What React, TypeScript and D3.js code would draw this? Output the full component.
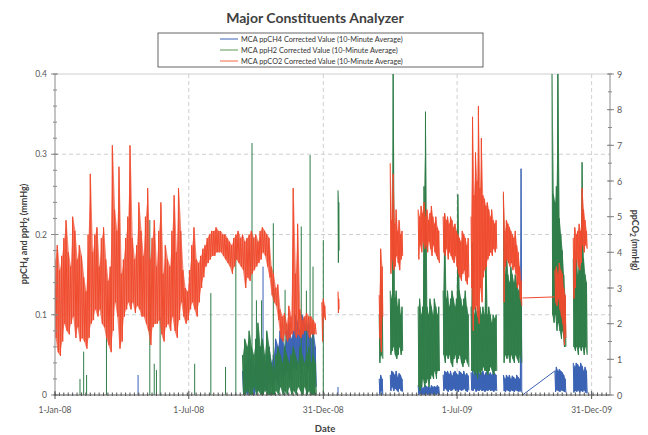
import React from "react";
import * as d3 from "d3";

const W = 648;
const H = 435;

// ---------- axes / categories ----------
const xDomainDates = ["2008-01-01", "2010-01-25"];
const xTickDates = ["2008-01-01", "2008-07-01", "2008-12-31", "2009-07-01", "2009-12-31"];
const xTickLabels = ["1-Jan-08", "1-Jul-08", "31-Dec-08", "1-Jul-09", "31-Dec-09"];
const leftTicks = [0, 0.1, 0.2, 0.3, 0.4];
const leftTickLabels = ["0", "0.1", "0.2", "0.3", "0.4"];
const rightTicks = [0, 1, 2, 3, 4, 5, 6, 7, 8, 9];
const legendLabels = [
  "MCA ppCH4 Corrected  Value (10-Minute Average)",
  "MCA ppH2 Corrected  Value (10-Minute Average)",
  "MCA ppCO2 Corrected  Value (10-Minute Average)",
];

// ---------- ppCO2 (right axis, mmHg): high / low per bin ----------
const co2Hi2008 = [3.8,4.2,3.5,3.9,4.4,4.9,4.0,3.6,5.0,4.6, 3.8,4.2,3.9,3.3,2.9,4.5,6.2,4.0,4.5,4.7, 3.6,4.4,4.7,3.8,3.2,3.6,7.0,5.2,4.6,6.4, 3.4,3.8,4.4,5.0,7.0,4.4,3.8,4.2,5.4,4.6, 3.9,5.0,5.8,3.8,4.4,4.9,3.6,4.6,5.4,3.4, 4.2,3.8,3.6,4.6,5.6,4.0,5.8,4.6,3.5,3.0, 2.9,3.5,4.2,4.7,3.8,3.7,3.9,4.1,4.2,4.4, 4.5,4.6,4.6,4.7,4.6,4.6,4.5,4.5,4.4,4.3, 4.2,4.4,4.5,4.6,4.4,4.5,4.3,4.4,4.5,4.6, 4.4,4.5,4.3,4.6,4.7,4.6,4.5,4.4,3.6,3.4, 3.0,3.1,2.4,2.2,2.3,2.0,2.5,2.2,5.8,3.4, 4.8,2.4,2.1,2.2,2.3,2.2,2.2,2.1,2.0];
const co2Lo2008 = [1.6,1.2,1.1,1.5,2.0,1.8,1.7,2.0,2.2,1.6, 1.9,1.5,1.6,1.5,1.3,1.6,2.0,2.1,2.4,2.2, 2.4,2.0,1.9,1.6,1.4,1.2,1.8,2.6,2.2,1.3, 1.5,2.2,2.4,2.6,2.4,2.6,2.3,2.5,2.4,2.2, 2.2,2.0,1.8,1.4,1.9,2.0,2.0,2.1,1.7,1.5, 1.9,2.0,1.8,2.2,1.8,1.6,2.1,2.6,2.2,2.0, 2.1,2.4,2.6,2.4,2.2,2.6,3.0,3.3,3.6,3.7, 3.8,3.9,3.9,4.0,4.0,4.0,3.9,3.8,3.7,3.6, 3.4,3.6,3.8,3.7,3.6,3.5,3.0,3.3,3.2,3.4, 3.5,3.6,3.7,3.8,4.0,3.9,3.6,3.3,2.8,2.6, 2.5,2.1,1.6,1.5,1.7,1.5,1.6,1.7,1.8,1.6, 1.7,1.6,1.7,1.8,1.8,1.6,1.7,1.7,1.7];
const co2HiDec08 = [2.6, 2.7, 2.5];
const co2LoDec08 = [1.5, 2.2, 2.1];
const co2HiJan09 = [2.9, 2.7];
const co2LoJan09 = [2.3, 2.4];
const co2HiMar09 = [2.8, 4.1, 3.6];
const co2LoMar09 = [1.6, 1.2, 2.2];
const co2HiApr09 = [6.5, 4.9, 6.2, 4.8, 5.2, 4.6, 4.9, 4.5, 4.6];
const co2LoApr09 = [3.4, 3.8, 3.5, 3.6, 3.9, 3.7, 3.5, 3.8, 3.9];
const co2HiMay09 = [5.2, 5.0, 5.3, 5.1, 5.4, 5.0, 5.2, 4.9, 5.1, 5.3, 5.0, 4.8, 5.0, 4.7, 4.6];
const co2LoMay09 = [3.8, 4.2, 4.0, 4.3, 4.1, 4.2, 4.0, 4.3, 4.1, 3.9, 4.2, 4.0, 3.9, 3.8, 3.7];
const co2HiJun09 = [5.0, 5.1, 4.9, 5.0, 4.8, 5.0, 4.9, 4.7, 4.8, 4.6, 4.5, 4.4, 4.3, 4.6, 4.5, 4.4, 4.2, 4.4];
const co2LoJun09 = [4.0, 3.9, 4.1, 3.8, 4.0, 3.9, 3.8, 3.7, 3.9, 3.6, 3.4, 3.3, 3.2, 3.4, 3.5, 3.2, 3.1, 3.3];
const co2HiJul09 = [5.0, 7.8, 5.6, 6.8, 6.0, 8.1, 5.8, 7.2, 5.6, 5.5, 5.3, 5.4, 5.2, 5.0, 5.2, 4.9, 4.8, 4.9];
const co2LoJul09 = [3.0, 1.8, 2.4, 2.5, 2.2, 2.0, 3.0, 2.6, 3.3, 3.5, 3.6, 3.8, 3.9, 4.0, 3.9, 4.1, 4.0, 4.1];
const co2HiSep09 = [5.7, 4.6, 4.9, 4.8, 4.7, 4.6, 4.5, 4.4, 4.6, 4.2, 4.0, 3.6, 3.2];
const co2LoSep09 = [2.6, 3.6, 3.8, 3.7, 3.6, 3.7, 3.5, 3.6, 3.4, 3.0, 3.1, 2.7, 2.5];
const co2BridgeDates = ["2009-09-28", "2009-11-11"];
const co2BridgeValues = [2.72, 2.75];
const co2HiNov09 = [3.5, 3.6, 3.4, 3.7, 3.5, 3.4, 3.0, 2.8];
const co2LoNov09 = [2.6, 2.5, 2.7, 2.4, 2.2, 2.0, 1.4, 1.6];
const co2HiDec09 = [4.4, 4.7, 4.5, 4.6, 4.8, 4.6, 5.8, 5.2, 4.9, 4.6];
const co2LoDec09 = [2.7, 3.0, 3.8, 3.6, 3.5, 3.7, 4.2, 4.0, 4.2, 4.1];

// ---------- ppH2 (left axis, mmHg) ----------
const h2SpikeDates = ["2008-02-04","2008-02-09","2008-02-13","2008-03-11","2008-05-09","2008-05-15","2008-05-18","2008-05-23","2008-07-09","2008-07-31","2008-08-20","2008-09-03","2008-09-25","2008-10-01","2008-10-08","2008-10-24","2008-11-09","2008-12-01","2008-12-08","2008-12-13","2008-12-17","2008-12-31"];
const h2SpikeValues = [0.02,0.054,0.025,0.1,0.218,0.039,0.031,0.097,0.039,0.127,0.035,0.197,0.314,0.118,0.118,0.214,0.131,0.21,0.13,0.299,0.16,0.193];
const h2Hi2008 = [0.05,0.07,0.06,0.08,0.06,0.05,0.07,0.09,0.06,0.07, 0.05,0.08,0.06,0.04,0.03,0.05,0.06,0.05,0.04,0.06, 0.05,0.04,0.05,0.06,0.05,0.04,0.06,0.05,0.04,0.05, 0.06,0.04,0.05,0.04];
const h2Lo2008 = [0,0,0.005,0,0,0.01,0,0.005,0,0, 0.005,0,0,0,0,0.005,0,0.01,0,0.005, 0,0.01,0,0.005,0,0.01,0.005,0,0.01,0, 0.005,0,0,0];
const h2HiJan09 = [0.255, 0.24];
const h2LoJan09 = [0.165, 0.18];
const h2HiMar09 = [0.1, 0.15, 0.13];
const h2LoMar09 = [0.04, 0.05, 0.045];
const h2HiApr09 = [0.13, 0.12, 0.42, 0.12, 0.13, 0.11, 0.12, 0.1, 0.11];
const h2LoApr09 = [0.05, 0.055, 0.06, 0.05, 0.045, 0.05, 0.06, 0.05, 0.055];
const h2HiMay09 = [0.11, 0.12, 0.1, 0.11, 0.26, 0.353, 0.11, 0.1, 0.12, 0.11, 0.1, 0.12, 0.11, 0.1, 0.11];
const h2LoMay09 = [0.01, 0.005, 0.01, 0.02, 0.01, 0.015, 0.02, 0.01, 0.02, 0.025, 0.02, 0.03, 0.02, 0.03, 0.03];
const h2HiJun09 = [0.13, 0.226, 0.12, 0.13, 0.11, 0.12, 0.13, 0.12, 0.11, 0.12, 0.25, 0.13, 0.12, 0.11, 0.12, 0.13, 0.11, 0.1];
const h2LoJun09 = [0.05, 0.04, 0.05, 0.045, 0.05, 0.04, 0.035, 0.045, 0.05, 0.04, 0.045, 0.05, 0.04, 0.035, 0.04, 0.045, 0.04, 0.035];
const h2HiJul09 = [0.11, 0.19, 0.1, 0.11, 0.1, 0.105, 0.11, 0.1, 0.11, 0.1, 0.197, 0.1, 0.11, 0.1, 0.09, 0.1, 0.095, 0.1];
const h2LoJul09 = [0.03, 0.03, 0.025, 0.03, 0.02, 0.03, 0.025, 0.03, 0.035, 0.03, 0.03, 0.025, 0.03, 0.035, 0.03, 0.025, 0.03, 0.03];
const h2HiSep09 = [0.25, 0.15, 0.19, 0.15, 0.14, 0.16, 0.15, 0.14, 0.15, 0.14, 0.13, 0.14, 0.12];
const h2LoSep09 = [0.04, 0.05, 0.045, 0.05, 0.04, 0.05, 0.045, 0.04, 0.05, 0.045, 0.04, 0.05, 0.04];
const h2HiNov09 = [0.42, 0.25, 0.24, 0.26, 0.42, 0.22, 0.2, 0.18, 0.15, 0.12];
const h2LoNov09 = [0.1, 0.09, 0.1, 0.08, 0.09, 0.08, 0.07, 0.08, 0.06, 0.06];
const h2HiDec09 = [0.17, 0.16, 0.18, 0.15, 0.17, 0.16, 0.29, 0.17, 0.15, 0.14];
const h2LoDec09 = [0.06, 0.055, 0.06, 0.05, 0.06, 0.055, 0.06, 0.05, 0.06, 0.05];

// ---------- ppCH4 (left axis, mmHg) ----------
const ch4SpikeDates = ["2008-04-23", "2008-10-10", "2009-01-20"];
const ch4SpikeValues = [0.025, 0.16, 0.01];
const ch4Hi2008 = [0.03,0.04,0.03,0.05,0.04,0.03,0.04,0.05,0.06,0.05, 0.04,0.05,0.06,0.04,0.05,0.07,0.06,0.08,0.07,0.06, 0.08,0.09,0.07,0.08,0.1,0.09,0.08,0.1,0.09,0.08, 0.09,0.07,0.08,0.06];
const ch4Lo2008 = [0,0.005,0,0.01,0.005,0,0.01,0.005,0.01,0, 0.01,0.005,0.02,0.01,0.015,0.02,0.01,0.03,0.02,0.025, 0.03,0.02,0.03,0.035,0.03,0.04,0.03,0.035,0.04,0.03, 0.035,0.03,0.02,0.01];
const ch4HiMar09 = [0.02, 0.025, 0.02];
const ch4LoMar09 = [0, 0.005, 0];
const ch4HiApr09 = [0.025, 0.03, 0.028, 0.025, 0.03, 0.022, 0.027, 0.025, 0.02];
const ch4LoApr09 = [0.005, 0.01, 0.005, 0.008, 0.006, 0.004, 0.008, 0.005, 0.004];
const ch4HiMay09 = [0.012, 0.01, 0.012, 0.008, 0.01, 0.012, 0.01, 0.011, 0.009, 0.012, 0.01, 0.011, 0.01, 0.012, 0.01];
const ch4LoMay09 = [0, 0.002, 0, 0.001, 0, 0.002, 0, 0.001, 0, 0.002, 0, 0.001, 0, 0.002, 0];
const ch4HiJun09 = [0.025, 0.03, 0.028, 0.03, 0.026, 0.03, 0.024, 0.028, 0.03, 0.027, 0.025, 0.03, 0.028, 0.026, 0.03, 0.025, 0.027, 0.024];
const ch4LoJun09 = [0.005, 0.008, 0.006, 0.004, 0.007, 0.005, 0.006, 0.008, 0.005, 0.006, 0.004, 0.007, 0.005, 0.006, 0.008, 0.005, 0.004, 0.006];
const ch4HiJul09 = [0.028, 0.03, 0.025, 0.03, 0.027, 0.03, 0.026, 0.028, 0.03, 0.025, 0.028, 0.03, 0.026, 0.028, 0.025, 0.03, 0.027, 0.025];
const ch4LoJul09 = [0.006, 0.005, 0.008, 0.004, 0.006, 0.005, 0.007, 0.005, 0.006, 0.004, 0.006, 0.005, 0.007, 0.005, 0.006, 0.004, 0.006, 0.005];
const ch4HiSep09 = [0.025, 0.02, 0.025, 0.022, 0.025, 0.02, 0.024, 0.022, 0.02, 0.025, 0.022, 0.02, 0.282];
const ch4LoSep09 = [0.005, 0.004, 0.006, 0.005, 0.004, 0.006, 0.005, 0.004, 0.006, 0.005, 0.004, 0.005, 0.003];
const ch4BridgeDates = ["2009-09-28", "2009-11-11"];
const ch4BridgeValues = [0.0, 0.03];
const ch4HiNov09 = [0.03, 0.035, 0.03, 0.032, 0.03, 0.028, 0.025, 0.02];
const ch4LoNov09 = [0.004, 0.006, 0.005, 0.004, 0.006, 0.005, 0.004, 0.003];
const ch4HiDec09 = [0.04, 0.035, 0.04, 0.038, 0.035, 0.04, 0.036, 0.03, 0.035, 0.03];
const ch4LoDec09 = [0.003, 0.005, 0.004, 0.006, 0.003, 0.005, 0.004, 0.006, 0.003, 0.002];

type Band = { start: string; step: number; hi: number[]; lo: number[] };

const co2Bands: Band[] = [
  { start: "2008-01-01", step: 3, hi: co2Hi2008, lo: co2Lo2008 },
  { start: "2008-12-29", step: 2, hi: co2HiDec08, lo: co2LoDec08 },
  { start: "2009-01-20", step: 1, hi: co2HiJan09, lo: co2LoJan09 },
  { start: "2009-03-17", step: 2, hi: co2HiMar09, lo: co2LoMar09 },
  { start: "2009-04-01", step: 2, hi: co2HiApr09, lo: co2LoApr09 },
  { start: "2009-05-09", step: 2, hi: co2HiMay09, lo: co2LoMay09 },
  { start: "2009-06-12", step: 2, hi: co2HiJun09, lo: co2LoJun09 },
  { start: "2009-07-20", step: 2, hi: co2HiJul09, lo: co2LoJul09 },
  { start: "2009-09-02", step: 2, hi: co2HiSep09, lo: co2LoSep09 },
  { start: "2009-11-11", step: 2, hi: co2HiNov09, lo: co2LoNov09 },
  { start: "2009-12-06", step: 2, hi: co2HiDec09, lo: co2LoDec09 },
];
const h2Bands: Band[] = [
  { start: "2008-09-12", step: 3, hi: h2Hi2008, lo: h2Lo2008 },
  { start: "2009-01-20", step: 1, hi: h2HiJan09, lo: h2LoJan09 },
  { start: "2009-03-17", step: 2, hi: h2HiMar09, lo: h2LoMar09 },
  { start: "2009-04-01", step: 2, hi: h2HiApr09, lo: h2LoApr09 },
  { start: "2009-05-09", step: 2, hi: h2HiMay09, lo: h2LoMay09 },
  { start: "2009-06-12", step: 2, hi: h2HiJun09, lo: h2LoJun09 },
  { start: "2009-07-20", step: 2, hi: h2HiJul09, lo: h2LoJul09 },
  { start: "2009-09-02", step: 2, hi: h2HiSep09, lo: h2LoSep09 },
  { start: "2009-11-07", step: 2, hi: h2HiNov09, lo: h2LoNov09 },
  { start: "2009-12-06", step: 2, hi: h2HiDec09, lo: h2LoDec09 },
];
const ch4Bands: Band[] = [
  { start: "2008-09-12", step: 3, hi: ch4Hi2008, lo: ch4Lo2008 },
  { start: "2009-03-17", step: 2, hi: ch4HiMar09, lo: ch4LoMar09 },
  { start: "2009-04-01", step: 2, hi: ch4HiApr09, lo: ch4LoApr09 },
  { start: "2009-05-09", step: 2, hi: ch4HiMay09, lo: ch4LoMay09 },
  { start: "2009-06-12", step: 2, hi: ch4HiJun09, lo: ch4LoJun09 },
  { start: "2009-07-20", step: 2, hi: ch4HiJul09, lo: ch4LoJul09 },
  { start: "2009-09-02", step: 2, hi: ch4HiSep09, lo: ch4LoSep09 },
  { start: "2009-11-11", step: 2, hi: ch4HiNov09, lo: ch4LoNov09 },
  { start: "2009-12-06", step: 2, hi: ch4HiDec09, lo: ch4LoDec09 },
];

const COL_CH4 = "#3a62b4";
const COL_H2 = "#2f7d48";
const COL_CO2 = "#f04b2e";
const FONT = "Lato, 'Open Sans', sans-serif";

const parse = d3.utcParse("%Y-%m-%d");
const DAY = 86400000;

export default function App() {
  const plot = { left: 55, right: 610, top: 74, bottom: 395 };
  const x = d3.scaleUtc().domain(xDomainDates.map((s) => parse(s)!)).range([plot.left, plot.right]);
  const yL = d3.scaleLinear().domain([0, 0.4]).range([plot.bottom, plot.top]);
  const yR = d3.scaleLinear().domain([0, 9]).range([plot.bottom, plot.top]);

  const bandPath = (b: Band, y: d3.ScaleLinear<number, number>) => {
    const t0 = parse(b.start)!.getTime();
    const pts: [number, number][] = [];
    b.hi.forEach((h, i) => {
      pts.push([t0 + i * b.step * DAY, h]);
      pts.push([t0 + (i + 0.5) * b.step * DAY, b.lo[i]]);
    });
    return d3.line<[number, number]>().x((p) => x(new Date(p[0]))).y((p) => y(p[1]))(pts) || "";
  };
  const bandArea = (b: Band, y: d3.ScaleLinear<number, number>) => {
    const t0 = parse(b.start)!.getTime();
    return (
      d3
        .area<number>()
        .x((_, i) => x(new Date(t0 + (i + 0.25) * b.step * DAY)))
        .y0((_, i) => y(b.lo[i]))
        .y1((h) => y(h))(b.hi) || ""
    );
  };
  const pairPath = (dates: string[], vals: number[], y: d3.ScaleLinear<number, number>) =>
    d3.line<number>().x((_, i) => x(parse(dates[i])!)).y((v) => y(v))(vals) || "";
  const spikePaths = (dates: string[], vals: number[]) =>
    vals.map((v, i) => {
      const xx = x(parse(dates[i])!);
      return `M${xx},${yL(0)}L${xx},${yL(v)}`;
    });

  const minorX = d3.utcDay.range(parse(xDomainDates[0])!, parse(xDomainDates[1])!, 6);
  const minorL = d3.range(0, 0.4001, 0.02);
  const minorR = d3.range(0, 9.001, 0.5);
  const gridGray = "#cfcfcf";
  const axisGray = "#8a8a8a";
  const labelGray = "#595959";

  const legend = { x: 158, y: 33, w: 325, h: 34 };
  const legendColors = [COL_CH4, "#5a9a55", "#ee6a45"];

  const series = [
    { key: "ch4", bands: ch4Bands, y: yL, color: COL_CH4 },
    { key: "h2", bands: h2Bands, y: yL, color: COL_H2 },
    { key: "co2", bands: co2Bands, y: yR, color: COL_CO2 },
  ];

  return (
    <svg width={W} height={H} style={{ position: "absolute", left: 0, top: 0, background: "#fff" }} fontFamily={FONT}>
      <defs>
        <clipPath id="plotClip">
          <rect x={plot.left} y={plot.top} width={plot.right - plot.left} height={plot.bottom - plot.top} />
        </clipPath>
      </defs>
      <rect width={W} height={H} fill="#fff" />
      {/* title */}
      <text x={315} y={23} textAnchor="middle" fontSize={14} fontWeight="bold" fill="#404040">
        Major Constituents  Analyzer
      </text>
      {/* gridlines */}
      {leftTicks.slice(1).map((t) => (
        <line key={"gh" + t} x1={plot.left} x2={plot.right} y1={yL(t)} y2={yL(t)} stroke={gridGray}
          strokeWidth={1} strokeDasharray={t === 0.4 ? undefined : "4,3"} />
      ))}
      {xTickDates.slice(1).map((d) => (
        <line key={"gv" + d} x1={x(parse(d)!)} x2={x(parse(d)!)} y1={plot.top} y2={plot.bottom} stroke={gridGray}
          strokeWidth={1} strokeDasharray="4,3" />
      ))}
      {/* series */}
      <g clipPath="url(#plotClip)" strokeWidth={1}>
        {series.map((s) => (
          <g key={s.key}>
            <g fill={s.color} fillOpacity={s.key === "co2" ? 0.7 : 0.9} stroke="none">
              {s.bands.map((b, i) => <path key={"a" + i} d={bandArea(b, s.y)} />)}
            </g>
            <g fill="none" stroke={s.color}>
              {s.bands.map((b, i) => <path key={"l" + i} d={bandPath(b, s.y)} />)}
              {s.key === "ch4" && spikePaths(ch4SpikeDates, ch4SpikeValues).map((d, i) => <path key={"cs" + i} d={d} />)}
              {s.key === "ch4" && <path d={pairPath(ch4BridgeDates, ch4BridgeValues, yL)} />}
              {s.key === "h2" && spikePaths(h2SpikeDates, h2SpikeValues).map((d, i) => <path key={"hs" + i} d={d} />)}
              {s.key === "co2" && <path d={pairPath(co2BridgeDates, co2BridgeValues, yR)} />}
            </g>
          </g>
        ))}
      </g>
      {/* axes */}
      <line x1={plot.left} x2={plot.left} y1={plot.top} y2={plot.bottom} stroke={axisGray} />
      <line x1={plot.right} x2={plot.right} y1={plot.top} y2={plot.bottom} stroke={axisGray} />
      <line x1={plot.left} x2={plot.right} y1={plot.bottom} y2={plot.bottom} stroke="#555" />
      {minorL.map((t) => (
        <line key={"ml" + t} x1={plot.left - 2} x2={plot.left + 2} y1={yL(t)} y2={yL(t)} stroke={axisGray} />
      ))}
      {leftTicks.map((t) => (
        <line key={"tl" + t} x1={plot.left - 4} x2={plot.left + 3} y1={yL(t)} y2={yL(t)} stroke={axisGray} />
      ))}
      {minorR.map((t) => (
        <line key={"mr" + t} x1={plot.right - 2} x2={plot.right + 2} y1={yR(t)} y2={yR(t)} stroke={axisGray} />
      ))}
      {rightTicks.map((t) => (
        <line key={"tr" + t} x1={plot.right - 3} x2={plot.right + 4} y1={yR(t)} y2={yR(t)} stroke={axisGray} />
      ))}
      {minorX.map((d, i) => (
        <line key={"mx" + i} x1={x(d)} x2={x(d)} y1={plot.bottom - 2.5} y2={plot.bottom + 1} stroke="#555" />
      ))}
      {xTickDates.map((d) => (
        <line key={"tx" + d} x1={x(parse(d)!)} x2={x(parse(d)!)} y1={plot.bottom - 4} y2={plot.bottom + 4} stroke="#555" />
      ))}
      {/* tick labels */}
      {leftTicks.map((t, i) => (
        <text key={"ll" + t} x={47} y={yL(t) + 3} textAnchor="end" fontSize={8.5} fill={labelGray}>{leftTickLabels[i]}</text>
      ))}
      {rightTicks.map((t) => (
        <text key={"rl" + t} x={617} y={yR(t) + 3.5} fontSize={9} fill={labelGray}>{t}</text>
      ))}
      {xTickDates.map((d, i) => (
        <text key={"xl" + d} x={x(parse(d)!)} y={413} textAnchor="middle" fontSize={8.5} fill={labelGray}>{xTickLabels[i]}</text>
      ))}
      {/* axis titles */}
      <text x={325} y={432} textAnchor="middle" fontSize={9.5} fontWeight="bold" fill="#404040">Date</text>
      <text transform={`translate(27,234) rotate(-90)`} textAnchor="middle" fontSize={9} fontWeight="bold" fill="#404040">
        ppCH<tspan fontSize={6.5} dy={2}>4</tspan><tspan dy={-2}> and ppH</tspan><tspan fontSize={6.5} dy={2}>2</tspan><tspan dy={-2}> (mmHg)</tspan>
      </text>
      <text transform={`translate(632,240) rotate(90)`} textAnchor="middle" fontSize={9} fontWeight="bold" fill="#404040">
        ppCO<tspan fontSize={6.5} dy={2}>2</tspan><tspan dy={-2}> (mmHg)</tspan>
      </text>
      {/* legend */}
      <rect x={legend.x} y={legend.y} width={legend.w} height={legend.h} fill="#fff" stroke="#404040" strokeWidth={0.8} />
      {legendLabels.map((l, i) => (
        <g key={"lg" + i}>
          <line x1={220} x2={238} y1={legend.y + 6 + i * 11} y2={legend.y + 6 + i * 11} stroke={legendColors[i]} strokeWidth={1} />
          <text x={241} y={legend.y + 8.5 + i * 11} fontSize={7.3} fill="#333">{l}</text>
        </g>
      ))}
    </svg>
  );
}
